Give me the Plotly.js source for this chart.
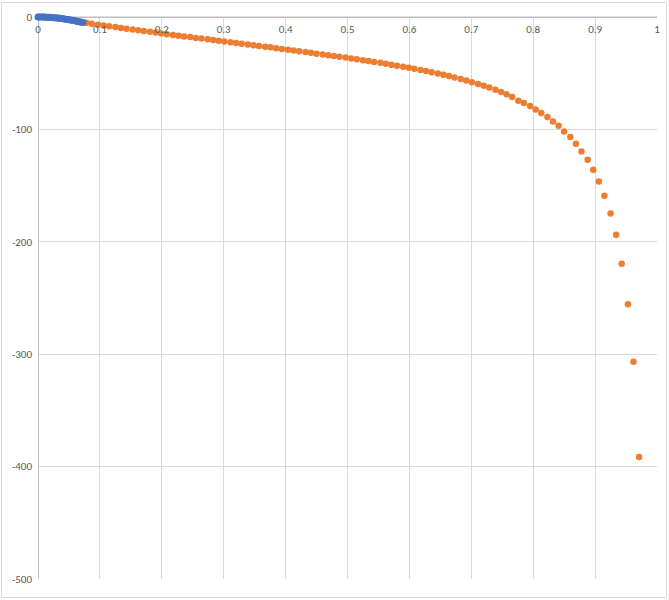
<!DOCTYPE html>
<html>
<head>
<meta charset="utf-8">
<script src="https://cdn.plot.ly/plotly-3.0.1.min.js"></script>
<style>
  html, body { margin: 0; padding: 0; background: #ffffff; }
  #frame { position: absolute; left: 1px; top: 2px; width: 664px; height: 594px; border: 1px solid #d9d9d9; pointer-events: none; }
  #chart { position: absolute; left: 0; top: 0; width: 669px; height: 600px; }
</style>
</head>
<body>
<div id="chart"></div>
<div id="frame"></div>
<script>
// Blue series (dense, near the origin)
const blueX = [0, 0.0025, 0.005, 0.0075, 0.01, 0.0125, 0.015, 0.0175, 0.02, 0.0225, 0.025, 0.0275, 0.03, 0.0325, 0.035, 0.0375, 0.04, 0.0425, 0.045, 0.0475, 0.05, 0.0525, 0.055, 0.0575, 0.06, 0.0625, 0.065, 0.0675, 0.07, 0.0725];
const blueY = [0, -0.01, -0.02, -0.05, -0.09, -0.15, -0.21, -0.29, -0.38, -0.48, -0.59, -0.71, -0.85, -0.99, -1.15, -1.32, -1.5, -1.7, -1.9, -2.12, -2.35, -2.59, -2.84, -3.11, -3.38, -3.67, -3.97, -4.28, -4.61, -4.94];

// Orange series
const orangeX = [0.078, 0.087, 0.097, 0.106, 0.115, 0.125, 0.134, 0.143, 0.153, 0.162,
  0.171, 0.181, 0.190, 0.199, 0.208, 0.218, 0.227, 0.236, 0.246, 0.255,
  0.264, 0.274, 0.283, 0.292, 0.301, 0.311, 0.320, 0.329, 0.339, 0.348,
  0.357, 0.367, 0.376, 0.385, 0.394, 0.404, 0.413, 0.422, 0.432, 0.441,
  0.450, 0.460, 0.469, 0.478, 0.487, 0.497, 0.506, 0.515, 0.525, 0.534,
  0.543, 0.553, 0.562, 0.571, 0.580, 0.590, 0.599, 0.608, 0.618, 0.627,
  0.636, 0.646, 0.655, 0.664, 0.673, 0.683, 0.692, 0.701, 0.711, 0.720,
  0.729, 0.739, 0.748, 0.757, 0.766, 0.776, 0.785, 0.795, 0.804, 0.813,
  0.823, 0.832, 0.841, 0.850, 0.860, 0.869, 0.878, 0.888, 0.897, 0.906,
  0.915, 0.925, 0.934, 0.943, 0.953, 0.962, 0.971];
const orangeY = [-5.2, -6.0, -6.8, -7.6, -8.3, -9.0, -9.7, -10.4, -11.1, -11.8,
  -12.5, -13.2, -13.9, -14.6, -15.3, -16.0, -16.6, -17.3, -17.9, -18.6,
  -19.2, -19.9, -20.5, -21.2, -21.8, -22.5, -23.1, -23.8, -24.4, -25.1,
  -25.7, -26.4, -27.0, -27.7, -28.4, -29.1, -29.8, -30.5, -31.2, -31.9,
  -32.6, -33.3, -34.0, -34.7, -35.4, -36.1, -36.9, -37.6, -38.4, -39.2,
  -40.0, -40.8, -41.6, -42.5, -43.4, -44.3, -45.2, -46.1, -47.1, -48.1,
  -49.2, -50.3, -51.4, -52.6, -53.8, -55.1, -56.5, -58.0, -59.5, -61.1,
  -62.8, -64.7, -66.7, -68.8, -71.1, -74.4, -76.6, -79.2, -82.2, -85.5,
  -89.0, -92.9, -96.7, -101.8, -106.8, -112.7, -119.6, -127.0, -135.9, -146.3,
  -159.0, -174.8, -193.8, -219.6, -255.6, -306.7, -391.5];

const xTicks = [0, 0.1, 0.2, 0.3, 0.4, 0.5, 0.6, 0.7, 0.8, 0.9, 1];
const xTickText = ['0', '0.1', '0.2', '0.3', '0.4', '0.5', '0.6', '0.7', '0.8', '0.9', '1'];
const yTicks = [0, -100, -200, -300, -400, -500];
const yTickText = ['0', '-100', '-200', '-300', '-400', '-500'];

const tickFont = { family: 'Carlito, Calibri, "Liberation Sans", Arial, sans-serif', size: 11, color: '#595959' };

const traces = [
  { x: orangeX, y: orangeY, type: 'scatter', mode: 'markers', name: 'orange', cliponaxis: false,
    marker: { color: '#ED7D31', size: 6.5, line: { width: 0 } }, hoverinfo: 'skip' },
  { x: blueX, y: blueY, type: 'scatter', mode: 'markers', name: 'blue', cliponaxis: false,
    marker: { color: '#4472C4', size: 7, line: { width: 0 } }, hoverinfo: 'skip' }
];

const layout = {
  width: 669, height: 600,
  margin: { l: 38, r: 12, t: 17, b: 21, pad: 0 },
  paper_bgcolor: '#ffffff', plot_bgcolor: '#ffffff',
  showlegend: false,
  xaxis: {
    range: [0, 1], side: 'bottom', anchor: 'free', position: 1,
    tickmode: 'array', tickvals: xTicks, ticktext: xTickText,
    ticks: '', ticklabelstandoff: 4,
    showgrid: true, gridcolor: '#d9d9d9', gridwidth: 1,
    showline: false,
    zeroline: true, zerolinecolor: '#bfbfbf', zerolinewidth: 1, zerolinelayer: 'below traces',
    tickfont: tickFont, fixedrange: true
  },
  yaxis: {
    range: [-500, 0], tickmode: 'array', tickvals: yTicks, ticktext: yTickText,
    ticks: '', ticklabelstandoff: 5,
    showgrid: true, gridcolor: '#d9d9d9', gridwidth: 1,
    showline: false,
    zeroline: true, zerolinecolor: '#bfbfbf', zerolinewidth: 1, zerolinelayer: 'below traces',
    tickfont: tickFont, fixedrange: true
  },
  shapes: [
    { type: 'line', layer: 'below', xref: 'paper', yref: 'paper', x0: 0, x1: 1, y0: 1, y1: 1,
      line: { color: '#bfbfbf', width: 1 } }
  ]
};

Plotly.newPlot('chart', traces, layout, { staticPlot: true, displayModeBar: false });
</script>
</body>
</html>
